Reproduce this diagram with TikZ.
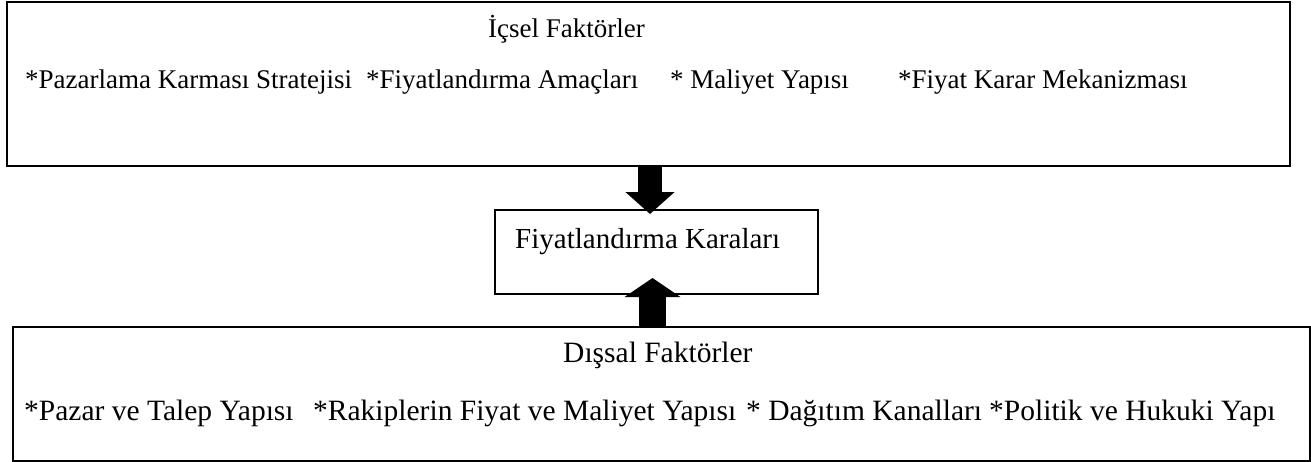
\documentclass[tikz,border=0pt]{standalone}
\usepackage{fontspec}
\setmainfont{Liberation Serif}
\usetikzlibrary{arrows.meta}
\begin{document}
\begin{tikzpicture}[x=1pt,y=-1pt,
  box/.style={draw=black,line width=1.5pt,inner sep=0pt,anchor=north west},
  lbl/.style={inner sep=0pt,anchor=base west},
  small/.style={lbl,font=\fontsize{27}{32}\selectfont},
  big/.style={lbl,font=\fontsize{29}{34}\selectfont},
  bigger/.style={lbl,font=\fontsize{29.5}{35}\selectfont},
  downarrow/.style={line width=24pt,-{Triangle[width=48pt,length=22pt]}},
  uparrow/.style={line width=27pt,-{Triangle[width=55pt,length=19pt]}}]
\useasboundingbox (0,0) rectangle (1311,461);
\node[box,minimum width=1283pt,minimum height=164pt] (top) at (6,1) {};
\node[box,minimum width=323pt,minimum height=84pt] (mid) at (494,209) {};
\node[box,minimum width=1297pt,minimum height=134pt] (bot) at (12,326) {};
% texts
\node[small] (t0) at (488,37) {İçsel Faktörler};
\node[small] (t1) at (25,88) {*Pazarlama Karması Stratejisi};
\node[small] (t2) at (366,88) {*Fiyatlandırma Amaçları};
\node[small] (t3) at (670,88) {* Maliyet Yapısı};
\node[small] (t4) at (898,88) {*Fiyat Karar Mekanizması};
\node[big] (m0) at (515,248) {Fiyatlandırma Karaları};
\node[bigger] (b0) at (563,362) {Dışsal Faktörler};
\node[bigger] (b1) at (24,420) {*Pazar ve Talep Yapısı};
\node[bigger] (b2) at (313,420) {*Rakiplerin Fiyat ve Maliyet Yapısı};
\node[bigger] (b3) at (746,420) {* Dağıtım Kanalları};
\node[bigger] (b4) at (989,420) {*Politik ve Hukuki Yapı};
% arrows
\coordinate (a1) at (650,214);
\coordinate (a2) at (652.5,278);
\draw[downarrow] (top.south -| a1) -- (a1);
\draw[uparrow] (bot.north -| a2) -- (a2);
\end{tikzpicture}
\end{document}
